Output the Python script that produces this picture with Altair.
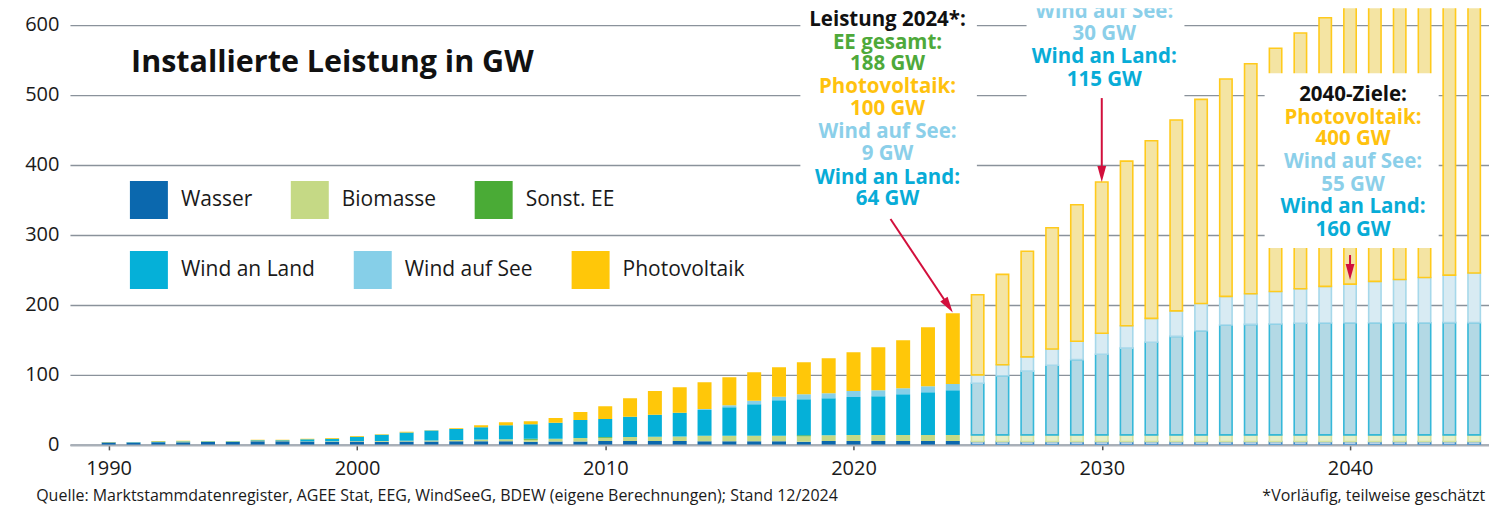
import altair as alt
import pandas as pd

# ---------------- data ----------------
SOURCES = ["Wasser", "Biomasse", "Sonst. EE", "Wind an Land", "Wind auf See", "Photovoltaik"]
COLORS = ["#0b68ae", "#c5d985", "#4aab36", "#05b0d8", "#86cfe8", "#ffc709"]
PROJ_FILL = ["#bad3ea", "#e6efc8", "#c8e6c0", "#b3d9e5", "#d8ebf3", "#f4e4a3"]
PROJ_STROKE = ["#3d8ccc", "#d2e2a0", "#6dbb5a", "#35b8d9", "#a6d8ea", "#ffca1c"]
LEGEND_ROW1 = ["Wasser", "Biomasse", "Sonst. EE"]
LEGEND_ROW2 = ["Wind an Land", "Wind auf See", "Photovoltaik"]

years_hist = list(range(1990, 2025))
wasser_hist = [3.3, 3.5, 3.6, 3.6, 4.2, 4.2, 5.2, 5.2, 4.8, 4.5,
               4.8, 4.6, 4.7, 4.8, 5.0, 5.0, 5.0, 4.6, 4.9, 4.9,
               5.7, 5.7, 5.7, 5.7, 5.3, 5.3, 5.3, 5.3, 4.3, 5.7,
               5.7, 5.7, 5.7, 5.7, 5.5]
biomasse_hist = [0.2, 0.2, 0.2, 0.9, 0.3, 0.3, 0.3, 0.3, 0.4, 0.5,
                 0.7, 1.0, 1.2, 1.4, 2.0, 2.6, 3.0, 2.8, 3.8, 5.0,
                 4.3, 5.7, 6.0, 6.3, 7.6, 7.6, 7.6, 7.6, 8.1, 8.1,
                 8.3, 8.3, 8.3, 8.3, 8.6]
sonst_hist = [0, 0, 0, 0, 0, 0, 0, 0, 0, 0,
              0, 0, 0, 0, 0, 0, 0, 1.5, 0, 0,
              1.4, 0, 0, 0, 0, 0, 0, 0, 1.4, 0,
              0, 0, 0, 0, 0]
land_hist = [0.1, 0.4, 1.0, 0.5, 0.6, 0.6, 1.0, 1.0, 2.7, 3.8,
             6.0, 8.7, 11.9, 14.3, 15.8, 17.6, 20.0, 20.7, 22.8, 25.5,
             25.7, 28.6, 31.2, 33.7, 37.0, 40.9, 45.2, 50.9, 51.4, 52.9,
             54.3, 55.5, 58.4, 61.2, 64.0]
see_hist = [0, 0, 0, 0, 0, 0, 0, 0, 0, 0,
            0, 0, 0, 0, 0, 0, 0, 0, 0, 0,
            0, 0, 0, 0, 1.5, 2.9, 4.8, 4.8, 7.2, 7.1,
            8.5, 8.6, 8.6, 8.6, 9.0]
pv_hist = [0.6, 0.1, 0.8, 0.8, 0.6, 0.6, 0.9, 0.9, 1.0, 1.0,
           1.0, 1.0, 0.8, 0.5, 1.0, 2.9, 4.4, 4.3, 7.0, 11.4,
           18.1, 26.7, 34.2, 36.7, 38.1, 40.0, 40.9, 42.4, 45.7, 50.0,
           55.3, 61.4, 68.5, 84.3, 101.0]

years_proj = list(range(2025, 2046))
wasser_proj = [4.8, 4.8, 4.8, 4.8, 4.8, 4.8, 4.8, 4.8, 4.8, 4.8, 4.8,
               4.8, 4.8, 4.8, 4.8, 4.8, 4.8, 4.8, 4.8, 4.8, 4.8]
biomasse_proj = [9.5, 9.5, 9.5, 9.5, 9.5, 9.5, 9.5, 9.5, 9.5, 9.5, 9.5,
                 9.5, 9.5, 9.5, 9.5, 9.5, 9.5, 9.5, 9.5, 9.5, 9.5]
sonst_proj = [0, 0, 0, 0, 0, 0, 0, 0, 0, 0, 0,
              0, 0, 0, 0, 0, 0, 0, 0, 0, 0]
land_proj = [73.8, 84.4, 91.0, 99.4, 107.5, 115.0, 123.8, 132.3, 140.6, 148.7, 156.9,
             157.8, 158.3, 159.3, 159.7, 160.0, 160.0, 160.0, 160.0, 160.2, 160.2]
see_proj = [11.9, 15.7, 20.3, 23.1, 26.2, 30.0, 32.1, 34.1, 36.4, 38.8, 40.8,
            43.7, 46.5, 49.4, 52.3, 55.3, 59.1, 61.9, 64.8, 67.9, 71.0]
pv_proj = [114.3, 129.1, 150.9, 173.2, 194.9, 216.1, 235.0, 253.5, 272.6, 291.6, 310.4,
           328.5, 347.2, 365.1, 383.7, 401.9, 400.0, 400.0, 400.0, 400.0, 400.0]

x_ticks = [1990, 2000, 2010, 2020, 2030, 2040]
y_ticks = [0, 100, 200, 300, 400, 500, 600]

# annotation texts (position in year / GW)
BLACK, GREEN, YELLOW, LBLUE, CYAN = "#111111", "#4ea93a", "#ffc20e", "#8bcfe9", "#08acd7"
note_text = ["Leistung 2024*:", "EE gesamt:", "188 GW", "Photovoltaik:", "100 GW",
             "Wind auf See:", "9 GW", "Wind an Land:", "64 GW",
             "30 GW", "Wind an Land:", "115 GW",
             "2040-Ziele:", "Photovoltaik:", "400 GW", "Wind auf See:", "55 GW",
             "Wind an Land:", "160 GW"]
note_color = [BLACK, GREEN, GREEN, YELLOW, YELLOW, LBLUE, LBLUE, CYAN, CYAN,
              LBLUE, CYAN, CYAN,
              BLACK, YELLOW, YELLOW, LBLUE, LBLUE, CYAN, CYAN]
note_x = [2021.37] * 9 + [2030.1] * 3 + [2040.12] * 7
note_y = [607.2, 574.3, 543.7, 510.8, 480.2, 446.6, 416.0, 381.7, 351.0,
          586.2, 553.4, 521.5,
          499.4, 466.6, 436.4, 403.8, 371.4, 339.6, 306.8]
# first line of the 2030 note, cut by the top edge of the plot
top_text = ["Wind auf See:"]
top_x = [2030.1]
top_y = [618.3]

box_x = [2017.86, 2026.97, 2036.56]
box_x2 = [2024.97, 2033.33, 2043.57]
box_y = [332.5, 493.7, 281.1]
box_y2 = [660.0, 660.0, 530.8]

arrow_x = [2021.49, 2030.0, 2040.0]
arrow_y = [322.5, 495.2, 271.1]
arrow_x2 = [2023.82, 2030.0, 2040.0]
arrow_y2 = [198.6, 386.7, 246.9]

# ---------------- build tables ----------------
def long_table(years, series):
    rows = []
    for i, yr in enumerate(years):
        for k, (name, vals) in enumerate(series):
            if vals[i] > 0:
                rows.append({"Jahr": yr, "Quelle": name, "GW": vals[i], "ord": k})
    return pd.DataFrame(rows)

df_hist = long_table(years_hist, list(zip(SOURCES, [wasser_hist, biomasse_hist, sonst_hist,
                                                    land_hist, see_hist, pv_hist])))
df_proj = long_table(years_proj, list(zip(SOURCES, [wasser_proj, biomasse_proj, sonst_proj,
                                                    land_proj, see_proj, pv_proj])))
df_notes = pd.DataFrame({"x": note_x, "y": note_y, "t": note_text, "c": note_color})
df_top = pd.DataFrame({"x": top_x, "y": top_y, "t": top_text})
df_boxes = pd.DataFrame({"x": box_x, "x2": box_x2, "y": box_y, "y2": box_y2})
df_arrows = pd.DataFrame({"x": arrow_x, "y": arrow_y, "x2": arrow_x2, "y2": arrow_y2})

FONT = "Open Sans"
xs = alt.Scale(domain=[1988.641, 2045.396], nice=False, zero=False)
ys = alt.Scale(domain=[0, 623.6], nice=False, zero=True)
XA = alt.Axis(values=x_ticks, format="d", title=None, grid=False)
YA = alt.Axis(values=y_ticks, title=None)


def X(field):
    return alt.X(field, scale=xs, axis=XA)


def Y(field, **kw):
    return alt.Y(field, scale=ys, axis=YA, **kw)


def legend_row(names, ly):
    colors = [COLORS[SOURCES.index(n)] for n in names]
    df = pd.DataFrame({"Jahr": [1990, 1990, 1990], "GW": [0, 0, 0], "Quelle": names})
    return alt.Chart(df).mark_bar(size=0.1, opacity=0).encode(
        x=X("Jahr:Q"), y=Y("GW:Q"),
        fill=alt.Fill("Quelle:N", scale=alt.Scale(domain=names, range=colors),
                      legend=alt.Legend(orient="none", legendX=60, legendY=ly,
                                        direction="horizontal", columns=3,
                                        symbolType="square", symbolSize=1444,
                                        symbolStrokeWidth=0, symbolOpacity=1,
                                        labelFont=FONT, labelFontSize=21,
                                        labelColor="#1a1a1a", labelOffset=13,
                                        columnPadding=38, title=None, padding=0,
                                        labelLimit=400)),
    )


hist = alt.Chart(df_hist).mark_bar(size=14, clip=True).encode(
    x=X("Jahr:Q"),
    y=Y("GW:Q", stack="zero"),
    fill=alt.Fill("Quelle:N", scale=alt.Scale(domain=SOURCES, range=COLORS), legend=None),
    order=alt.Order("ord:Q", sort="ascending"),
)

proj = alt.Chart(df_proj).mark_bar(size=12.4, strokeWidth=1.6, clip=True).encode(
    x=X("Jahr:Q"),
    y=Y("GW:Q", stack="zero"),
    fill=alt.Fill("Quelle:N", scale=alt.Scale(domain=SOURCES, range=PROJ_FILL), legend=None),
    stroke=alt.Stroke("Quelle:N", scale=alt.Scale(domain=SOURCES, range=PROJ_STROKE), legend=None),
    order=alt.Order("ord:Q", sort="ascending"),
)

boxes = alt.Chart(df_boxes).mark_rect(fill="white", clip=True).encode(
    x=X("x:Q"), x2="x2:Q", y=Y("y:Q"), y2="y2:Q",
)

notes = alt.Chart(df_notes).mark_text(font=FONT, fontWeight="bold", fontSize=20.5,
                                      align="center", baseline="middle").encode(
    x=X("x:Q"), y=Y("y:Q"), text="t:N", color=alt.Color("c:N", scale=None),
)

top_note = alt.Chart(df_top).mark_text(font=FONT, fontWeight="bold", fontSize=20.5,
                                       align="center", baseline="middle", clip=True,
                                       color=LBLUE).encode(
    x=X("x:Q"), y=Y("y:Q"), text="t:N",
)

title = alt.Chart(pd.DataFrame({"x": [1990.9], "y": [545.0], "t": ["Installierte Leistung in GW"]})).mark_text(
    font=FONT, fontWeight="bold", fontSize=30.5, align="left", baseline="middle", color="#111111"
).encode(x=X("x:Q"), y=Y("y:Q"), text="t:N")

foot_l = alt.Chart(pd.DataFrame({"x": [1987.08], "y": [-72.8],
                                 "t": ["Quelle: Marktstammdatenregister, AGEE Stat, EEG, WindSeeG, BDEW (eigene Berechnungen); Stand 12/2024"]})).mark_text(
    font=FONT, fontSize=16, align="left", baseline="middle", color="#1a1a1a"
).encode(x=X("x:Q"), y=Y("y:Q"), text="t:N")

foot_r = alt.Chart(pd.DataFrame({"x": [2045.44], "y": [-72.8],
                                 "t": ["*Vorläufig, teilweise geschätzt"]})).mark_text(
    font=FONT, fontSize=16, align="right", baseline="middle", color="#1a1a1a"
).encode(x=X("x:Q"), y=Y("y:Q"), text="t:N")

ARROW = "#d20f3c"
HEAD = "M-0.55,-1L0.55,-1L0,1Z"
rules = alt.Chart(df_arrows).mark_rule(color=ARROW, strokeWidth=2).encode(
    x=X("x:Q"), x2="x2:Q", y=Y("y:Q"), y2="y2:Q",
)
head_diag = alt.Chart(df_arrows.iloc[[0]]).mark_point(
    shape=HEAD, filled=True, size=256, color=ARROW, opacity=1, angle=326.3
).encode(x=X("x2:Q"), y=Y("y2:Q"))
head_vert = alt.Chart(df_arrows.iloc[[1, 2]]).mark_point(
    shape=HEAD, filled=True, size=256, color=ARROW, opacity=1
).encode(x=X("x2:Q"), y=Y("y2:Q"))

chart = alt.layer(
    hist, proj, boxes, notes, top_note, title, foot_l, foot_r, rules, head_diag, head_vert,
    legend_row(LEGEND_ROW1, 173), legend_row(LEGEND_ROW2, 243),
).resolve_scale(
    fill="independent", stroke="independent"
).properties(
    width=1420, height=437,
    padding={"left": 16, "top": 0, "right": 0, "bottom": 0},
    background="white",
).configure(font=FONT).configure_view(stroke=None).configure_axisX(
    labelFont=FONT, labelFontSize=20, labelColor="#1a1a1a", labelPadding=9,
    tickSize=5, tickColor="#555555", tickWidth=1.5,
    domainColor="#a9b0b8", domainWidth=2.5,
).configure_axisY(
    labelFont=FONT, labelFontSize=20, labelColor="#1a1a1a", labelPadding=11,
    ticks=False, domain=False, gridColor="#8a929b", gridWidth=1.4,
)

chart.save("out.html", embed_options={"renderer": "svg", "actions": False})
